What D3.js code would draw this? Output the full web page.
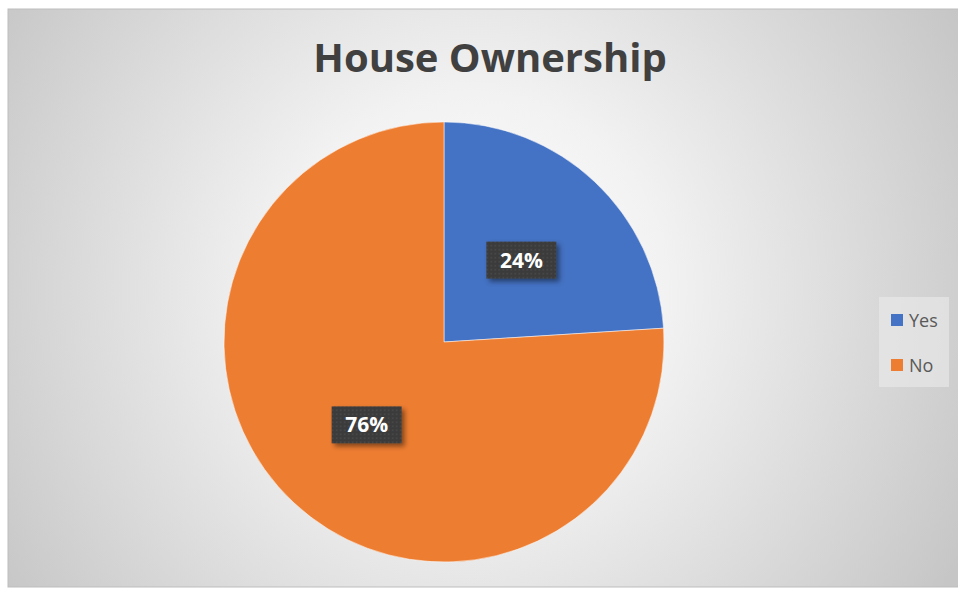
<!DOCTYPE html>
<html><head><meta charset="utf-8">
<script src="https://cdn.jsdelivr.net/npm/d3@7"></script>
<style>html,body{margin:0;padding:0;background:#fff;}svg{display:block;}</style>
</head><body>
<svg id="chart" width="958" height="590"></svg>
<script>
const categories = ["Yes", "No"];
const values = [24, 76];
const colors = ["#4472C4", "#ED7D31"];
const title = "House Ownership";

const svg = d3.select("#chart");
const defs = svg.append("defs");
const grad = defs.append("radialGradient").attr("id","bg")
  .attr("gradientUnits","userSpaceOnUse").attr("cx",470).attr("cy",290).attr("r",560);
grad.append("stop").attr("offset","0%").attr("stop-color","#ffffff");
grad.append("stop").attr("offset","35%").attr("stop-color","#f2f2f2");
grad.append("stop").attr("offset","100%").attr("stop-color","#c6c6c6");

const pat = defs.append("pattern").attr("id","dots").attr("patternUnits","userSpaceOnUse")
  .attr("width",4).attr("height",4);
pat.append("rect").attr("width",4).attr("height",4).attr("fill","#3a3a3a");
pat.append("circle").attr("cx",2).attr("cy",2).attr("r",0.8).attr("fill","#555555");

const shadow = defs.append("filter").attr("id","sh").attr("x","-30%").attr("y","-30%").attr("width","160%").attr("height","160%");
shadow.append("feDropShadow").attr("dx",3).attr("dy",3).attr("stdDeviation",2.5).attr("flood-color","#000").attr("flood-opacity",0.45);

svg.append("rect").attr("x",8).attr("y",9).attr("width",960).attr("height",578)
  .attr("fill","url(#bg)").attr("stroke","#bdbdbd").attr("stroke-width",1);

svg.append("text").attr("x",490).attr("y",72).attr("text-anchor","middle")
  .attr("font-family","'Open Sans', sans-serif").attr("font-weight",700).attr("font-size",40)
  .attr("fill","#404040").text(title);

const cx = 444, cy = 342, R = 220;
const pie = d3.pie().sort(null).value(d => d)(values);
const arc = d3.arc().innerRadius(0).outerRadius(R);
const labelArc = d3.arc().innerRadius(113).outerRadius(113);
const g = svg.append("g").attr("transform",`translate(${cx},${cy})`);
g.selectAll("path").data(pie).join("path").attr("d",arc)
  .attr("fill",(d,i)=>colors[i]).attr("stroke","#ffffff").attr("stroke-opacity",0.5).attr("stroke-width",1);

const lbl = g.selectAll("g.lbl").data(pie).join("g").attr("class","lbl")
  .attr("transform",d=>{const c=labelArc.centroid(d);return `translate(${c[0]},${c[1]})`;});
lbl.append("rect").attr("x",-35).attr("y",-18).attr("width",70).attr("height",37)
  .attr("fill","url(#dots)").attr("filter","url(#sh)");
lbl.append("text").attr("text-anchor","middle").attr("y",8)
  .attr("font-family","'Open Sans', sans-serif").attr("font-weight",700).attr("font-size",21)
  .attr("fill","#ffffff").text(d=>d.data+"%");

svg.append("rect").attr("x",879).attr("y",297).attr("width",70).attr("height",90).attr("fill","#ebebeb").attr("opacity",0.6);
const leg = svg.selectAll("g.leg").data(categories).join("g").attr("class","leg")
  .attr("transform",(d,i)=>`translate(891,${314+i*45})`);
leg.append("rect").attr("width",12).attr("height",12).attr("fill",(d,i)=>colors[i]);
leg.append("text").attr("x",18).attr("y",13).attr("font-family","'Open Sans', sans-serif")
  .attr("font-size",18).attr("fill","#595959").text(d=>d);
</script>
</body></html>
